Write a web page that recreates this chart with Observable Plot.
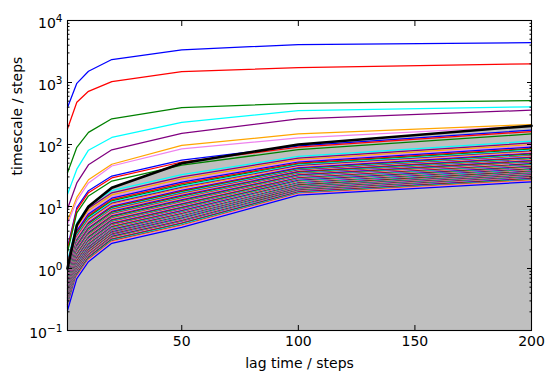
<!DOCTYPE html>
<html><head><meta charset="utf-8">
<script src="https://cdn.jsdelivr.net/npm/d3@7"></script>
<script src="https://cdn.jsdelivr.net/npm/@observablehq/plot@0.6"></script>
<style>body{margin:0;background:#fff} svg{display:block}</style>
</head><body><div id="chart"></div>
<script>
// lag times (x) and per-process implied timescales (one row per process, values at each lag)
const lags = [1, 5, 10, 20, 50, 100, 200];
const lineColors = ["blue", "red", "green", "cyan", "purple", "orange", "violet"];
const slowTimescales = [
  [395, 970, 1517, 2344, 3365, 4100, 4400],
  [180, 480, 721, 1035, 1500, 1740, 2000],
  [35, 90, 157, 260, 394, 461, 510],
  [15.8, 40, 81, 130, 228, 352, 405],
  [9.2, 24, 47, 82, 151, 258, 358],
  [5.9, 14, 27, 48, 97, 148, 210],
  [5.2, 12.5, 24, 45, 85, 128, 198]
];
const fastTimescales = [
  [2.2, 9.6, 18, 31, 56, 95, 171],
  [2.06, 8.92, 16.7, 28.9, 52.2, 90.3, 162],
  [1.84, 7.88, 14.8, 25.7, 46.4, 82.8, 148],
  [1.33, 5.44, 10.2, 18.1, 32.7, 64.1, 113],
  [1.23, 4.99, 9.35, 16.6, 30.1, 60.3, 106],
  [1.14, 4.60, 8.63, 15.4, 27.9, 57.1, 100],
  [1.07, 4.29, 8.04, 14.4, 26.1, 54.4, 95],
  [1.02, 4.04, 7.58, 13.6, 24.7, 52.2, 91],
  [0.963, 3.80, 7.13, 12.9, 23.3, 50.0, 87],
  [0.923, 3.63, 6.80, 12.3, 22.2, 48.4, 84],
  [0.885, 3.46, 6.49, 11.8, 21.3, 46.8, 81],
  [0.853, 3.32, 6.23, 11.3, 20.4, 45.5, 78.5],
  [0.820, 3.18, 5.96, 10.85, 19.6, 44.1, 76],
  [0.792, 3.05, 5.73, 10.5, 18.9, 43.0, 74],
  [0.764, 2.93, 5.50, 10.07, 18.2, 41.8, 72],
  [0.746, 2.85, 5.35, 9.81, 17.7, 41.0, 70.5],
  [0.727, 2.77, 5.20, 9.55, 17.2, 40.2, 69],
  [0.708, 2.69, 5.05, 9.28, 16.75, 39.3, 67.5],
  [0.688, 2.61, 4.89, 9.0, 16.25, 38.5, 66],
  [0.671, 2.54, 4.75, 8.76, 15.8, 37.7, 64.7],
  [0.655, 2.47, 4.63, 8.54, 15.4, 37.0, 63.4],
  [0.641, 2.41, 4.51, 8.34, 15.06, 36.4, 62.2],
  [0.625, 2.34, 4.39, 8.13, 14.7, 35.7, 61],
  [0.611, 2.28, 4.28, 7.94, 14.35, 35.1, 59.9],
  [0.597, 2.22, 4.17, 7.74, 14.0, 34.5, 58.8],
  [0.585, 2.17, 4.08, 7.58, 13.7, 33.95, 57.8],
  [0.573, 2.12, 3.98, 7.41, 13.4, 33.4, 56.8],
  [0.561, 2.07, 3.89, 7.24, 13.08, 32.8, 55.8],
  [0.550, 2.03, 3.80, 7.09, 12.8, 32.3, 54.9],
  [0.538, 1.98, 3.71, 6.93, 12.5, 31.8, 54],
  [0.527, 1.94, 3.63, 6.79, 12.25, 31.3, 53.1],
  [0.517, 1.89, 3.55, 6.64, 12.0, 30.8, 52.2],
  [0.507, 1.85, 3.47, 6.50, 11.77, 30.3, 51.4],
  [0.497, 1.81, 3.40, 6.37, 11.54, 29.9, 50.6],
  [0.487, 1.77, 3.32, 6.23, 11.3, 29.4, 49.8],
  [0.478, 1.73, 3.25, 6.11, 11.06, 28.97, 49],
  [0.469, 1.70, 3.19, 5.99, 10.85, 28.6, 48.3],
  [0.461, 1.67, 3.13, 5.88, 10.64, 28.2, 47.6],
  [0.453, 1.63, 3.06, 5.77, 10.42, 27.8, 46.9],
  [0.444, 1.60, 3.00, 5.65, 10.2, 27.4, 46.2],
  [0.436, 1.57, 2.94, 5.54, 10.01, 27.0, 45.5],
  [0.429, 1.54, 2.89, 5.45, 9.84, 26.7, 44.9],
  [0.422, 1.51, 2.84, 5.36, 9.67, 26.4, 44.3],
  [0.415, 1.48, 2.78, 5.27, 9.50, 26.0, 43.7],
  [0.408, 1.45, 2.73, 5.17, 9.33, 25.7, 43.1],
  [0.401, 1.42, 2.68, 5.08, 9.17, 25.35, 42.5],
  [0.394, 1.40, 2.62, 4.99, 9.0, 25.0, 41.9],
  [0.389, 1.375, 2.58, 4.91, 8.86, 24.7, 41.4],
  [0.383, 1.35, 2.54, 4.83, 8.72, 24.4, 40.9],
  [0.377, 1.33, 2.49, 4.75, 8.58, 24.1, 40.4],
  [0.372, 1.31, 2.45, 4.68, 8.45, 23.8, 39.9],
  [0.366, 1.285, 2.41, 4.60, 8.31, 23.6, 39.4],
  [0.360, 1.26, 2.37, 4.53, 8.17, 23.3, 38.9],
  [0.355, 1.24, 2.32, 4.45, 8.03, 23.0, 38.4],
  [0.350, 1.22, 2.29, 4.39, 7.92, 22.8, 38],
  [0.346, 1.20, 2.26, 4.33, 7.82, 22.6, 37.6],
  [0.341, 1.19, 2.23, 4.27, 7.71, 22.3, 37.2],
  [0.337, 1.17, 2.19, 4.21, 7.60, 22.1, 36.8],
  [0.332, 1.155, 2.16, 4.15, 7.50, 21.85, 36.4],
  [0.328, 1.14, 2.13, 4.09, 7.39, 21.6, 36],
  [0.324, 1.12, 2.10, 4.03, 7.29, 21.4, 35.6],
  [0.319, 1.10, 2.06, 3.97, 7.18, 21.1, 35.2],
  [0.316, 1.09, 2.04, 3.93, 7.10, 20.95, 34.9],
  [0.312, 1.075, 2.02, 3.89, 7.02, 20.8, 34.6],
  [0.309, 1.06, 1.99, 3.84, 6.94, 20.6, 34.3],
  [0.306, 1.05, 1.97, 3.80, 6.86, 20.45, 34],
  [0.303, 1.035, 1.94, 3.75, 6.79, 20.3, 33.7],
  [0.299, 1.025, 1.92, 3.71, 6.71, 20.1, 33.4],
  [0.296, 1.01, 1.89, 3.66, 6.63, 19.95, 33.1],
  [0.293, 1.00, 1.87, 3.62, 6.55, 19.8, 32.8],
  [0.290, 0.988, 1.85, 3.58, 6.47, 19.6, 32.5],
  [0.286, 0.975, 1.83, 3.54, 6.40, 19.45, 32.2],
  [0.283, 0.963, 1.80, 3.50, 6.32, 19.27, 31.9],
  [0.279, 0.95, 1.78, 3.45, 6.24, 19.1, 31.6],
  [0.276, 0.937, 1.76, 3.41, 6.16, 18.9, 31.3],
  [0.273, 0.925, 1.74, 3.37, 6.09, 18.75, 31],
  [0.270, 0.913, 1.71, 3.33, 6.01, 18.6, 30.7],
  [0.267, 0.901, 1.69, 3.29, 5.93, 18.43, 30.4],
  [0.263, 0.889, 1.66, 3.24, 5.86, 18.27, 30.1],
  [0.260, 0.877, 1.64, 3.20, 5.78, 18.1, 29.8],
  [0.257, 0.865, 1.62, 3.16, 5.71, 17.9, 29.5],
  [0.254, 0.853, 1.60, 3.12, 5.63, 17.75, 29.2],
  [0.250, 0.841, 1.575, 3.08, 5.55, 17.57, 28.9],
  [0.247, 0.829, 1.55, 3.03, 5.48, 17.4, 28.6],
  [0.244, 0.817, 1.53, 2.99, 5.40, 17.2, 28.3],
  [0.241, 0.806, 1.51, 2.95, 5.33, 17.03, 28],
  [0.237, 0.79, 1.48, 2.90, 5.23, 16.8, 27.6],
  [0.233, 0.774, 1.45, 2.84, 5.13, 16.55, 27.2],
  [0.228, 0.758, 1.42, 2.79, 5.03, 16.3, 26.8],
  [0.223, 0.738, 1.38, 2.72, 4.91, 16.0, 26.3],
  [0.217, 0.715, 1.34, 2.64, 4.77, 15.7, 25.7],
  [0.21, 0.689, 1.29, 2.55, 4.60, 15.3, 25]
];
const xTicks = [50, 100, 150, 200];
const yMajorTicks = [0.1, 1, 10, 100, 1000, 10000];
const yMinorMultipliers = [2, 3, 4, 5, 6, 7, 8, 9];
const xLimits = [1, 200];
const yLimits = [0.1, 10000];
const xLabel = "lag time / steps";
const yLabel = "timescale / steps";

const yMinorTicks = yMajorTicks.slice(0, -1).flatMap(t => yMinorMultipliers.map(m => t * m));
const allTimescales = slowTimescales.concat(fastTimescales);
const tsData = allTimescales.flatMap((row, i) =>
  row.map((t, j) => ({lag: lags[j], t, id: i, color: lineColors[i % lineColors.length]})));

const fmtPow = d => {
  const e = Math.round(Math.log10(d));
  return "10^" + (e < 0 ? "\u2212" + (-e) : String(e));
};
const FS = 14;
const noText = () => "";

const chart = Plot.plot({
  width: 553, height: 380,
  marginLeft: 67, marginRight: 22, marginTop: 20, marginBottom: 50,
  style: {fontFamily: "DejaVu Sans", fontSize: FS + "px", background: "white", color: "black"},
  x: {domain: xLimits},
  y: {type: "log", domain: yLimits},
  color: {type: "identity"},
  marks: [
    Plot.areaY(lags, {x: d => d, y1: () => yLimits[0], y2: d => d, fill: "#bfbfbf"}),
    Plot.line(tsData, {x: "lag", y: "t", z: "id", stroke: "color", strokeWidth: 1.25}),
    Plot.line(lags, {x: d => d, y: d => d, stroke: "black", strokeWidth: 2.6}),
    Plot.axisX({ticks: xTicks, tickSize: 0, tickPadding: 6, tickFormat: d => String(d), label: null, fontSize: FS}),
    Plot.axisX({anchor: "bottom", ticks: xTicks, tickSize: -5, tickFormat: noText, label: null}),
    Plot.axisX({anchor: "top", ticks: xTicks, tickSize: -5, tickFormat: noText, label: null}),
    Plot.axisY({anchor: "left", ticks: yMajorTicks, tickSize: 0, tickPadding: 5, tickFormat: fmtPow, label: null, dy: 3, fontSize: FS}),
    Plot.axisY({anchor: "left", ticks: yMajorTicks, tickSize: -5, tickFormat: noText, label: null}),
    Plot.axisY({anchor: "left", ticks: yMinorTicks, tickSize: -2.5, tickFormat: noText, label: null}),
    Plot.axisY({anchor: "right", ticks: yMajorTicks, tickSize: -5, tickFormat: noText, label: null}),
    Plot.axisY({anchor: "right", ticks: yMinorTicks, tickSize: -2.5, tickFormat: noText, label: null}),
    Plot.frame({stroke: "black", strokeWidth: 1.1}),
    Plot.text([xLabel], {text: d => d, frameAnchor: "bottom", dy: 37, lineAnchor: "bottom", fontSize: FS}),
    Plot.text([yLabel], {text: d => d, frameAnchor: "left", dx: -50, rotate: -90, lineAnchor: "middle", fontSize: FS})
  ]
});

d3.select(chart).selectAll('g[aria-label="y-axis tick label"] text').each(function () {
  const m = (this.textContent || "").match(/^10\^(.+)$/);
  if (!m) return;
  const t = d3.select(this);
  t.text("10");
  t.append("tspan").attr("dy", "-0.55em").attr("font-size", "0.75em").text(m[1]);
});

document.getElementById("chart").appendChild(chart);
</script>
</body></html>
